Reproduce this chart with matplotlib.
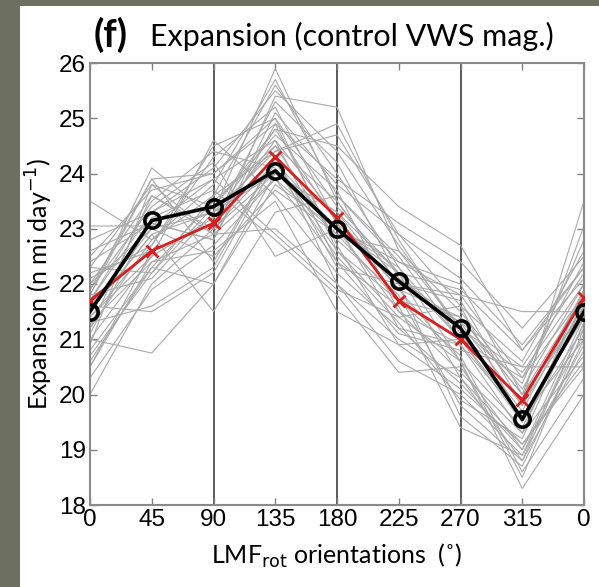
import matplotlib
matplotlib.use('Agg')
import matplotlib.pyplot as plt
from matplotlib.patches import Rectangle
import numpy as np

# Orientations (deg); the last tick repeats 0 to close the cycle
orient_labels = ['0', '45', '90', '135', '180', '225', '270', '315', '0']

# Ensemble members (8 orientations, cycle closed afterwards)
members = [
    [21.6, 23.0, 23.3, 25.9, 23.5, 22.0, 21.3, 19.8],
    [21.2, 22.8, 23.6, 25.6, 24.0, 22.3, 21.0, 19.5],
    [22.0, 23.6, 22.9, 25.4, 25.2, 22.6, 21.5, 20.1],
    [20.0, 22.0, 23.0, 24.2, 22.6, 21.4, 20.6, 18.3],
    [21.8, 24.1, 23.2, 24.8, 23.1, 22.0, 21.8, 20.3],
    [21.4, 22.5, 24.6, 23.6, 22.2, 21.2, 20.2, 19.0],
    [22.6, 23.1, 22.8, 25.1, 23.8, 22.9, 21.6, 20.6],
    [20.8, 22.3, 23.5, 24.5, 22.8, 21.8, 19.8, 18.8],
    [21.0, 20.75, 22.0, 24.0, 23.3, 22.2, 21.0, 19.6],
    [21.9, 23.4, 24.2, 22.5, 23.0, 21.5, 20.9, 19.3],
    [22.3, 23.8, 23.4, 24.8, 24.5, 23.4, 22.7, 20.8],
    [21.3, 21.6, 22.3, 24.3, 22.0, 21.0, 20.3, 18.8],
    [23.5, 22.8, 23.8, 25.7, 23.6, 22.5, 21.0, 19.9],
    [23.05, 23.05, 23.9, 24.6, 23.2, 21.9, 21.4, 20.0],
    [20.5, 22.4, 22.6, 23.5, 21.5, 20.9, 20.1, 19.1],
    [21.7, 23.5, 24.4, 24.1, 22.5, 21.3, 19.9, 19.2],
    [22.2, 22.6, 23.1, 25.3, 24.2, 22.1, 21.3, 20.5],
    [20.3, 21.9, 22.7, 23.9, 22.9, 21.7, 20.7, 18.6],
    [21.5, 22.9, 21.5, 23.3, 23.6, 22.4, 22.0, 20.0],
    [22.5, 23.7, 24.0, 24.9, 23.9, 23.1, 22.4, 21.2],
    [21.1, 23.2, 23.7, 22.8, 21.8, 20.4, 20.5, 19.0],
    [21.8, 22.1, 23.3, 24.4, 24.9, 22.8, 21.1, 19.7],
    [20.9, 23.8, 22.9, 23.9, 22.4, 21.6, 19.4, 18.9],
    [22.1, 22.7, 24.5, 25.0, 23.4, 22.2, 21.9, 20.8],
    [21.6, 21.5, 22.2, 24.2, 23.0, 22.3, 20.6, 19.4],
    [21.5, 22.9, 23.3, 24.0, 23.0, 22.4, 21.8, 21.5],
    [20.5, 22.6, 23.1, 24.6, 22.4, 21.1, 20.8, 20.5],
    [22.8, 23.3, 24.1, 25.5, 24.4, 22.7, 21.2, 20.2],
    [21.3, 22.4, 22.9, 23.0, 22.0, 20.6, 20.0, 18.9],
    [21.9, 23.9, 22.4, 24.3, 22.3, 22.0, 21.7, 19.8],
    [20.7, 22.2, 23.4, 24.7, 23.7, 21.5, 20.4, 19.3],
    [22.0, 23.0, 22.5, 23.7, 22.9, 22.6, 21.2, 20.4],
    [21.4, 22.7, 24.3, 25.2, 23.1, 21.2, 20.9, 19.6],
    [21.2, 23.6, 23.0, 24.0, 23.3, 21.9, 20.6, 18.5],
    [22.3, 22.2, 23.6, 24.4, 24.7, 22.9, 22.1, 20.9],
    [20.6, 22.3, 22.0, 23.8, 23.0, 22.2, 20.3, 19.1],
    [21.7, 23.3, 23.9, 22.9, 21.9, 21.4, 21.6, 19.5],
    [22.4, 23.1, 22.8, 24.9, 22.7, 20.9, 21.0, 20.3],
    [21.0, 22.5, 23.2, 24.5, 23.5, 22.0, 19.6, 18.7],
    [21.8, 23.9, 24.0, 25.0, 22.6, 21.7, 21.4, 20.0],
]

# Control run (black circles) and ensemble mean (red crosses)
control = [21.5, 23.15, 23.4, 24.05, 23.0, 22.05, 21.2, 19.55, 21.5]
ens_mean = [21.7, 22.6, 23.1, 24.3, 23.2, 21.7, 21.0, 19.9, 21.75]

x = np.arange(len(orient_labels))

fig = plt.figure(figsize=(5.99, 5.87), dpi=100)
fig.patch.set_facecolor('#6d6f60')
fig.add_artist(Rectangle((20 / 599, 0), 1, 1 - 6 / 587, transform=fig.transFigure,
                         facecolor='white', edgecolor='none', zorder=0))

ax = fig.add_axes([90 / 599, 1 - 505 / 587, 494 / 599, 442 / 587])

for m in members:
    ax.plot(x, m + [m[0]], color='#a9a9a9', lw=0.8, zorder=2)

for v in [2, 4, 6]:
    ax.axvline(v, color='#4d4d4d', lw=1.3, zorder=1)

ax.plot(x, ens_mean, color='#d81e1e', lw=2, marker='x', ms=8, mew=2, zorder=4)
ax.plot(x, control, color='black', lw=2.6, marker='o', ms=11, mew=2.6,
        mfc='none', zorder=5)

ax.set_xlim(0, 8)
ax.set_ylim(18, 26)
ax.set_xticks(x)
ax.set_xticklabels(orient_labels)
ax.set_yticks(np.arange(18, 27, 1))

for lab in ax.get_xticklabels() + ax.get_yticklabels():
    lab.set_family('Liberation Sans')
    lab.set_fontsize(17.5)
ax.tick_params(direction='in', length=5, width=1, color='#808080',
               top=True, right=True, pad=3)
for s in ax.spines.values():
    s.set_color('#8a8a8a')
    s.set_linewidth(1.5)

ax.set_ylabel('Expansion (n mi day$^{-1}$)', family='Lato', fontsize=18, labelpad=3)
ax.set_xlabel('LMF$_{\\mathrm{rot}}$ orientations  (˚)', family='Lato', fontsize=18,
              labelpad=8)

fig.text(94 / 599, 1 - 47 / 587, '(f)', family='Lato', fontsize=27,
         fontweight='bold', va='baseline')
fig.text(150 / 599, 1 - 46 / 587, 'Expansion (control VWS mag.)', family='Lato',
         fontsize=22, va='baseline')

fig.savefig('out.png', dpi=100, facecolor=fig.get_facecolor())
